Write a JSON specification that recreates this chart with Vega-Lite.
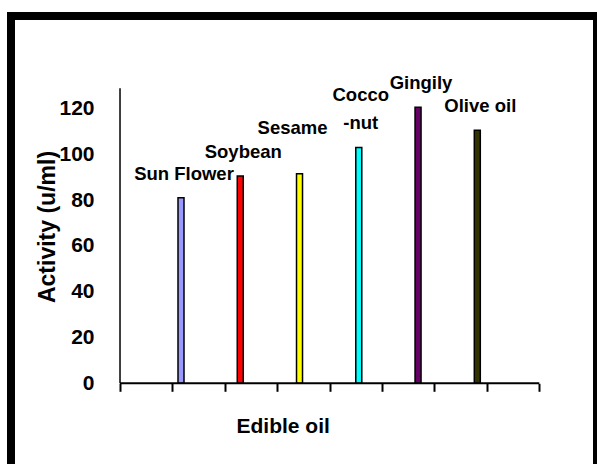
{
  "$schema": "https://vega.github.io/schema/vega-lite/v6.json",
  "width": 586,
  "height": 454,
  "autosize": "none",
  "padding": {"left": 11, "top": 16, "right": 0, "bottom": 0},
  "background": "white",
  "config": {
    "font": "Liberation Sans",
    "view": {"stroke": "black", "strokeWidth": 8},
    "axis": {"labelFont": "Liberation Sans", "titleFont": "Liberation Sans"}
  },
  "data": {"values": [
    {"oil": "Sun Flower", "label": "Sun Flower", "activity": 81},
    {"oil": "Soybean", "label": "Soybean", "activity": 90.5},
    {"oil": "Sesame", "label": "Sesame", "activity": 91.5},
    {"oil": "Cocco-nut", "label": "Cocco\n-nut", "activity": 103},
    {"oil": "Gingily", "label": "Gingily", "activity": 120.5},
    {"oil": "Olive oil", "label": "Olive oil", "activity": 110.5}
  ]},
  "resolve": {"scale": {"x": "independent"}, "axis": {"x": "independent"}},
  "layer": [
    {
      "encoding": {
        "x": {
          "field": "oil", "type": "nominal", "sort": null,
          "scale": {"domain": ["Sun Flower", "Soybean", "Sesame", "Cocco-nut", "Gingily", "Olive oil"], "range": [140.37, 495.93], "paddingInner": 0, "paddingOuter": 0, "round": false},
          "axis": null
        },
        "y": {
          "field": "activity", "type": "quantitative",
          "scale": {"domain": [-37.86, 160.4], "nice": false, "zero": false},
          "axis": {
            "offset": -109, "values": [0, 20, 40, 60, 80, 100, 120],
            "domain": false, "ticks": false, "tickSize": 0, "grid": false,
            "labelFontSize": 21, "labelFontWeight": "bold", "labelColor": "black", "labelPadding": 26,
            "title": "Activity (u/ml)", "titleFontSize": 23, "titleFontWeight": "bold", "titleColor": "black",
            "titleX": -73, "titleY": 210.5, "titleAngle": -90, "titleBaseline": "middle", "titleAlign": "center"
          }
        }
      },
      "layer": [
        {
          "mark": {"type": "bar", "width": 6, "stroke": "black", "strokeWidth": 1.5},
          "encoding": {
            "y2": {"datum": 0},
            "color": {"field": "oil", "type": "nominal", "legend": null,
              "scale": {"domain": ["Sun Flower", "Soybean", "Sesame", "Cocco-nut", "Gingily", "Olive oil"], "range": ["#9999FF", "#FF0000", "#FFFF00", "#00FFFF", "#660066", "#333300"]}}
          }
        },
        {
          "transform": [{"filter": "datum.oil !== 'Sesame' && datum.oil !== 'Cocco-nut'"}],
          "mark": {"type": "text", "baseline": "bottom", "align": "center", "dy": -14, "dx": 3, "fontSize": 18.5, "fontWeight": "bold", "color": "black"},
          "encoding": {"text": {"field": "label"}}
        },
        {
          "transform": [{"filter": "datum.oil === 'Cocco-nut'"}],
          "mark": {"type": "text", "baseline": "bottom", "align": "center", "dy": -42.6, "dx": 2, "fontSize": 18.5, "fontWeight": "bold", "color": "black", "lineBreak": "\n", "lineHeight": 28.6},
          "encoding": {"text": {"field": "label"}}
        },
        {
          "transform": [{"filter": "datum.oil === 'Sesame'"}],
          "mark": {"type": "text", "baseline": "bottom", "align": "center", "dy": -36, "dx": -7, "fontSize": 18.5, "fontWeight": "bold", "color": "black"},
          "encoding": {"text": {"field": "label"}}
        }
      ]
    },
    {
      "data": {"values": [{}]},
      "encoding": {
        "x": {"datum": 0, "type": "quantitative",
          "scale": {"domain": [-2.08, 9.101], "nice": false, "zero": false},
          "axis": {
            "orient": "bottom", "offset": -86.7, "values": [0, 1, 2, 3, 4, 5, 6, 7, 8],
            "domain": false, "labels": false, "ticks": true, "tickSize": 8, "tickWidth": 2, "tickColor": "black", "grid": false,
            "title": "Edible oil", "titleFontSize": 21, "titleFontWeight": "bold", "titleColor": "black",
            "titleX": 271.7, "titleY": 49, "titleBaseline": "alphabetic", "titleAlign": "center"
          }},
        "y": {"datum": 0, "type": "quantitative"}
      },
      "layer": [
        {
          "mark": {"type": "rule", "stroke": "black", "strokeWidth": 2},
          "encoding": {"x2": {"datum": 8}}
        },
        {
          "mark": {"type": "rule", "stroke": "black", "strokeWidth": 1.5},
          "encoding": {"y2": {"datum": 128.8}}
        }
      ]
    }
  ]
}
